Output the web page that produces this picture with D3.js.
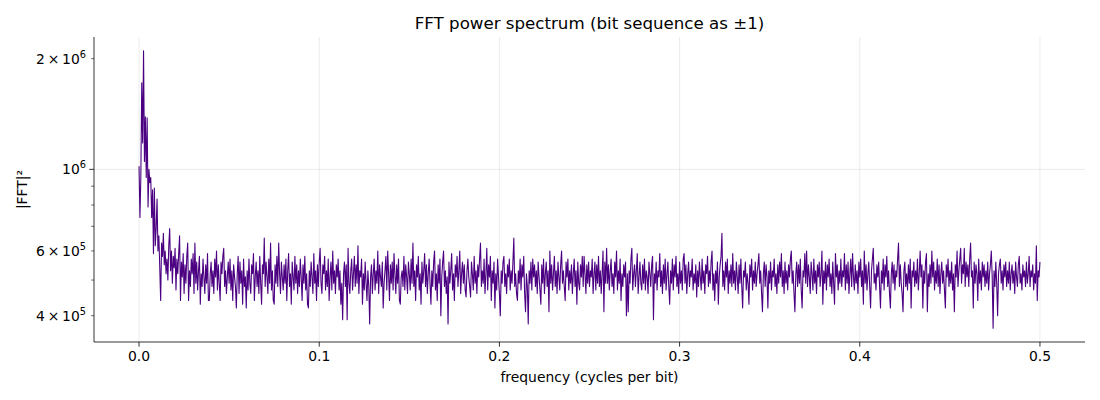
<!DOCTYPE html>
<html><head><meta charset="utf-8">
<script src="https://cdn.jsdelivr.net/npm/d3@7"></script>
<style>
body{margin:0;background:#fff;}
text{font-family:"DejaVu Sans",sans-serif;fill:#000;}
</style></head>
<body><svg id="chart" width="1100" height="400"></svg>
<script>
// frequency step between spectrum bins (cycles per bit)
const freqStep = 0.0005;
// power values in units of 1e4 (|FFT|^2 / 1e4)
const power = [
102,74,96,172,118,210,105,139,95,138,79,100,92,95,74,88,59,89,62,69,
83,60,66,54,44,63,58,67,55,60,52,57,50,62,69,53,60,49,58,54,
61,47,57,52,59,66,44,56,51,59,46,55,49,58,63,44,53,48,57,52,
59,46,63,49,56,47,53,58,43,52,48,57,51,46,55,49,59,44,44,52,
56,48,53,46,57,51,60,47,55,49,44,56,52,58,61,48,53,46,51,56,
49,57,47,53,44,55,51,48,42,52,58,46,56,49,53,43,57,48,51,42,
53,47,57,49,46,55,52,59,44,51,56,48,53,46,58,49,43,55,52,65,
48,56,51,46,57,49,63,47,53,44,43,55,49,58,48,63,52,46,56,51,
47,55,49,57,44,53,59,48,52,43,56,51,47,58,49,55,46,53,48,57,
51,44,55,49,58,47,52,43,42,53,48,56,51,46,59,49,53,44,55,48,
56,61,49,46,55,52,58,47,53,48,57,44,51,56,47,60,49,53,46,55,
51,57,47,53,43,49,39,52,56,48,55,39,61,49,46,53,57,47,52,58,
48,55,49,62,46,53,51,57,43,52,47,56,49,44,53,48,38,51,55,46,
52,57,47,53,49,60,46,55,51,48,56,42,49,53,58,47,60,52,44,55,
49,56,47,59,52,46,55,49,57,44,43,51,53,48,58,47,55,51,46,56,
52,47,57,49,63,48,53,44,55,51,58,47,52,43,56,49,53,59,48,55,
46,52,57,49,43,53,48,56,60,47,52,44,55,49,57,40,51,56,60,48,
53,46,51,38,56,49,53,59,47,52,44,55,51,58,48,53,60,46,52,56,
49,55,47,45,53,57,51,48,45,56,52,47,58,49,53,46,55,51,57,63,
48,53,49,57,46,52,61,47,55,51,58,44,53,49,56,42,52,47,57,51,
46,40,53,49,56,58,48,52,46,55,51,57,47,53,49,56,65,48,52,46,
44,53,49,57,47,55,51,58,46,41,52,48,38,53,49,56,47,57,51,55,
48,53,46,56,51,47,43,55,49,57,46,52,56,48,53,41,60,49,55,47,
52,58,48,53,46,56,51,47,55,60,49,53,48,44,56,51,57,47,53,49,
55,46,52,57,48,53,43,56,49,47,55,51,58,48,58,52,46,55,49,56,
48,53,51,57,46,52,56,47,55,49,58,48,53,46,52,60,41,56,49,61,
49,55,47,53,57,48,52,46,56,51,60,47,53,49,57,44,52,48,55,51,
56,40,52,41,53,49,57,61,47,52,55,48,53,59,46,51,56,49,47,55,
49,57,47,53,51,46,56,52,48,55,58,39,52,49,56,47,53,51,59,48,
53,46,55,49,57,47,52,56,48,43,53,49,57,47,55,51,58,48,52,46,
56,49,53,47,57,59,49,55,46,52,56,48,53,51,57,47,52,49,55,45,
53,48,56,51,47,57,49,53,46,55,52,58,48,53,49,56,60,47,52,44,
53,49,56,43,51,55,58,67,48,53,47,56,51,57,46,53,49,55,48,59,
49,53,47,56,51,46,55,49,57,48,42,53,51,56,47,52,49,43,55,51,
57,47,53,49,56,48,52,55,59,49,53,46,41,52,56,48,55,51,42,53,
49,56,47,53,51,57,48,52,46,55,49,56,51,59,48,53,46,56,49,53,
47,55,51,57,60,49,53,46,41,52,56,48,55,49,57,47,42,53,51,59,
49,60,48,55,51,46,56,52,47,57,49,53,46,55,51,56,48,52,60,43,
53,49,56,47,55,51,57,48,52,46,56,49,43,59,51,55,47,53,49,57,
48,53,51,59,47,55,49,56,46,52,57,48,59,51,47,55,49,53,46,56,
51,57,48,53,43,60,49,55,47,52,56,48,42,53,57,61,49,52,47,55,
51,56,48,42,53,49,57,47,55,51,58,48,53,46,42,52,56,49,55,47,
53,51,57,63,48,55,49,46,41,53,56,48,52,47,55,49,57,42,53,51,
56,48,53,49,57,47,52,60,51,55,42,53,49,56,59,41,52,48,55,49,
60,51,56,47,53,49,57,48,55,46,52,56,49,53,47,42,55,51,57,48,
53,49,56,47,52,41,55,51,60,48,53,57,61,49,55,52,61,48,56,51,
55,48,57,63,51,53,42,56,49,55,52,44,57,49,53,47,56,51,55,48,
53,49,56,47,52,55,60,51,37,53,48,56,49,40,52,55,57,49,53,47,
55,51,56,48,53,49,56,47,52,55,49,53,46,56,51,48,55,58,49,52,
47,55,51,53,48,56,49,52,58,48,53,51,55,47,52,49,62,44,53,51,
56
];
const powerUnit = 1e4;
const xTicks = [0.0, 0.1, 0.2, 0.3, 0.4, 0.5];
const yMajorTicks = [1e6];
const yMinorTicks = [4e5, 5e5, 6e5, 7e5, 8e5, 9e5, 2e6];
const yMinorLabels = {400000: ["4", "5"], 600000: ["6", "5"], 2000000: ["2", "6"]};
const titleText = "FFT power spectrum (bit sequence as \u00b11)";
const xLabelText = "frequency (cycles per bit)";
const yLabelText = "|FFT|\u00b2";

const data = power.map((v, i) => ({f: i * freqStep, p: v * powerUnit}));

const svg = d3.select("#chart");
const L = 94, R = 1085, T = 37, B = 342;
const FS = 13.9;

const fMax = d3.max(data, d => d.f), fMin = d3.min(data, d => d.f);
const fPad = (fMax - fMin) * 0.05;
const x = d3.scaleLinear().domain([fMin - fPad, fMax + fPad]).range([L, R]);

const lmin = Math.log10(d3.min(data, d => d.p)), lmax = Math.log10(d3.max(data, d => d.p));
const lPad = (lmax - lmin) * 0.05;
const y = d3.scaleLog().domain([Math.pow(10, lmin - lPad), Math.pow(10, lmax + lPad)]).range([B, T]);

// grid
const grid = svg.append("g");
grid.selectAll("line.gx").data(xTicks).join("line")
  .attr("x1", d => x(d)).attr("x2", d => x(d)).attr("y1", T).attr("y2", B)
  .attr("stroke", "#b0b0b0").attr("stroke-opacity", 0.3).attr("stroke-width", 0.8);
grid.selectAll("line.gy").data(yMajorTicks).join("line")
  .attr("y1", d => y(d)).attr("y2", d => y(d)).attr("x1", L).attr("x2", R)
  .attr("stroke", "#b0b0b0").attr("stroke-opacity", 0.3).attr("stroke-width", 0.8);

// line
const line = d3.line().x(d => x(d.f)).y(d => y(d.p));
svg.append("path").datum(data).attr("d", line)
  .attr("fill", "none").attr("stroke", "#4b0082").attr("stroke-width", 1.1)
  .attr("stroke-linejoin", "round");

// spines
svg.append("line").attr("x1", L).attr("x2", L).attr("y1", T).attr("y2", B).attr("stroke", "#000").attr("stroke-width", 0.8);
svg.append("line").attr("x1", L).attr("x2", R).attr("y1", B).attr("y2", B).attr("stroke", "#000").attr("stroke-width", 0.8);

// x ticks
const gx = svg.append("g");
xTicks.forEach(t => {
  gx.append("line").attr("x1", x(t)).attr("x2", x(t)).attr("y1", B).attr("y2", B + 4.7).attr("stroke", "#000").attr("stroke-width", 0.8);
  gx.append("text").attr("x", x(t)).attr("y", B + 19).attr("text-anchor", "middle")
    .attr("font-size", FS).text(d3.format(".1f")(t));
});

// y ticks
const gy = svg.append("g");
yMajorTicks.forEach(t => {
  const yy = y(t);
  gy.append("line").attr("x1", L - 4.7).attr("x2", L).attr("y1", yy).attr("y2", yy).attr("stroke", "#000").attr("stroke-width", 0.8);
  const tx = gy.append("text").attr("x", L - 8).attr("y", yy + 5).attr("text-anchor", "end").attr("font-size", FS);
  tx.append("tspan").text("10");
  tx.append("tspan").attr("dy", -6).attr("font-size", 9.8).text(String(Math.round(Math.log10(t))));
});
yMinorTicks.forEach(t => {
  const yy = y(t);
  gy.append("line").attr("x1", L - 2.8).attr("x2", L).attr("y1", yy).attr("y2", yy).attr("stroke", "#000").attr("stroke-width", 0.6);
  const lab = yMinorLabels[t];
  if (lab) {
    const tx = gy.append("text").attr("x", L - 8).attr("y", yy + 5).attr("text-anchor", "end").attr("font-size", FS);
    tx.append("tspan").text(lab[0] + "\u2009\u00d7\u200910");
    tx.append("tspan").attr("dy", -6).attr("font-size", 9.8).text(lab[1]);
  }
});

// labels
svg.append("text").attr("x", (L + R) / 2).attr("y", 29).attr("text-anchor", "middle").attr("font-size", 16.67).text(titleText);
svg.append("text").attr("x", (L + R) / 2).attr("y", 382).attr("text-anchor", "middle").attr("font-size", FS).text(xLabelText);
svg.append("text").attr("transform", `translate(27,${(T + B) / 2}) rotate(-90)`).attr("text-anchor", "middle").attr("font-size", FS).text(yLabelText);
</script></body></html>
